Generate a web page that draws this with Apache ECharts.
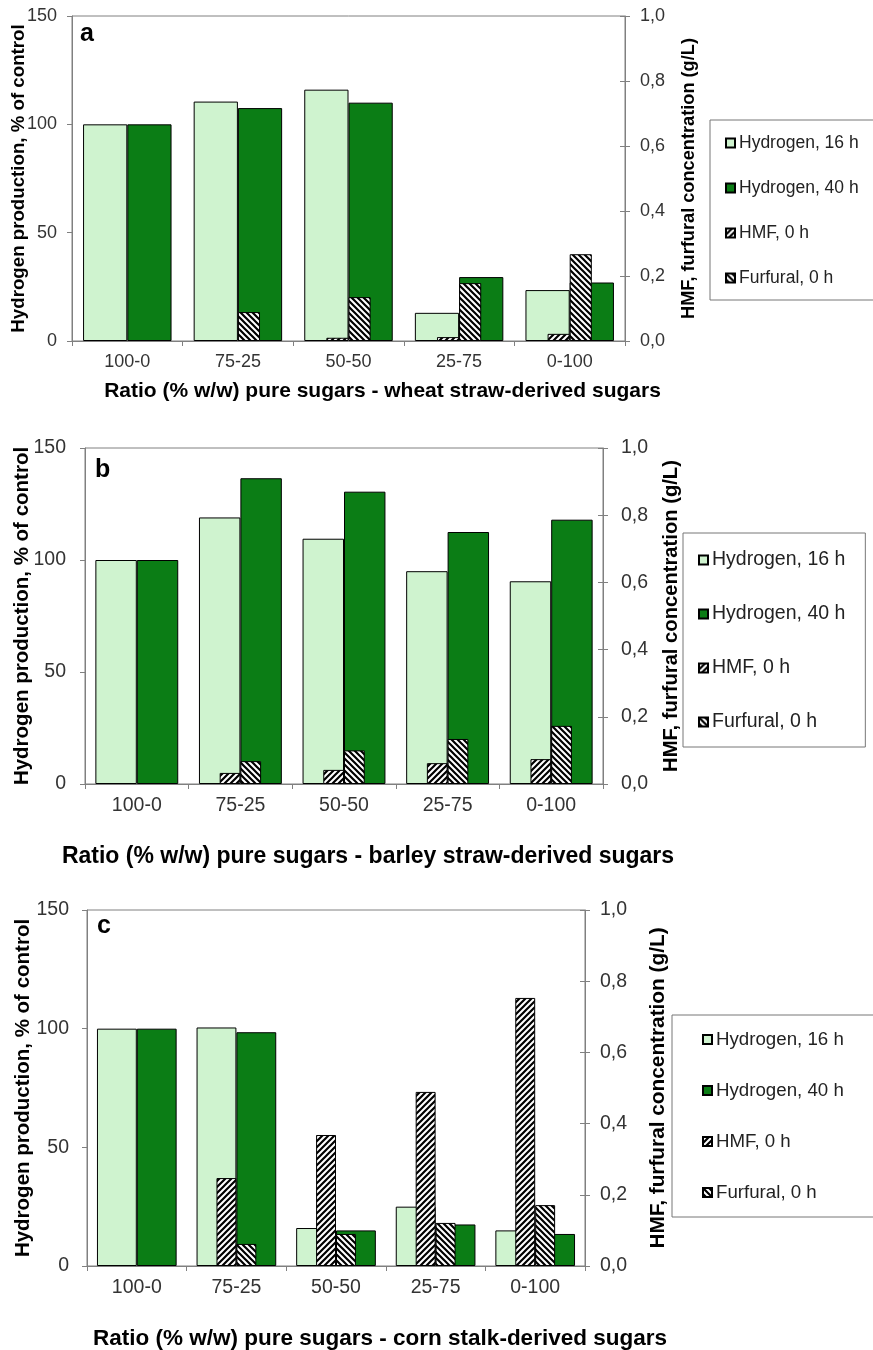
<!DOCTYPE html>
<html>
<head>
<meta charset="utf-8">
<script src="https://cdn.jsdelivr.net/npm/echarts@6/dist/echarts.min.js"></script>
<style>
html,body{margin:0;padding:0;background:#fff;}
#chart{width:873px;height:1350px;}
</style>
</head>
<body>
<div id="chart"></div>
<script>
// ---- data ----
const categories = ['100-0', '75-25', '50-50', '25-75', '0-100'];
const seriesNames = ['Hydrogen, 16 h', 'Hydrogen, 40 h', 'HMF, 0 h', 'Furfural, 0 h'];
const leftTicks = [0, 50, 100, 150];
const rightTicks = [0, 0.2, 0.4, 0.6, 0.8, 1.0];

const a_h16 = [100, 110.5, 116, 13, 23.5];
const a_h40 = [100, 107.5, 110, 29.5, 27];
const a_hmf = [null, null, 0.01, 0.012, 0.022];
const a_fur = [null, 0.089, 0.135, 0.178, 0.267];

const b_h16 = [100, 119, 109.5, 95, 90.5];
const b_h40 = [100, 136.5, 130.5, 112.5, 118];
const b_hmf = [null, 0.033, 0.042, 0.062, 0.074];
const b_fur = [null, 0.068, 0.10, 0.134, 0.173];

const c_h16 = [100, 100.5, 16, 25, 15];
const c_h40 = [100, 98.5, 15, 17.5, 13.5];
const c_hmf = [null, 0.247, 0.368, 0.489, 0.753];
const c_fur = [null, 0.062, 0.09, 0.121, 0.171];

const panelLetters = ['a', 'b', 'c'];
const xTitles = [
  'Ratio (% w/w) pure sugars - wheat straw-derived sugars',
  'Ratio (% w/w) pure sugars - barley straw-derived sugars',
  'Ratio (% w/w) pure sugars - corn stalk-derived sugars'
];
const leftTitle = 'Hydrogen production, % of control';
const rightTitle = 'HMF, furfural concentration (g/L)';

// ---- styles ----
const FONT = '"Liberation Sans", Arial, sans-serif';
const LIGHT = '#CFF3CF';
const DARK = '#0B7D15';
const AXIS = '#808080';

function hatch(dir) {
  const s = 6;
  const c = document.createElement('canvas');
  c.width = s; c.height = s;
  const g = c.getContext('2d');
  g.fillStyle = '#fff'; g.fillRect(0, 0, s, s);
  g.strokeStyle = '#000'; g.lineWidth = 2.2;
  g.beginPath();
  if (dir > 0) {
    g.moveTo(0, s); g.lineTo(s, 0);
    g.moveTo(-s, s); g.lineTo(s, -s);
    g.moveTo(0, 2 * s); g.lineTo(2 * s, 0);
  } else {
    g.moveTo(0, 0); g.lineTo(s, s);
    g.moveTo(-s, 0); g.lineTo(s, 2 * s);
    g.moveTo(0, -s); g.lineTo(2 * s, s);
  }
  g.stroke();
  return c;
}
const hmfPattern = { image: hatch(1), repeat: 'repeat' };
const furPattern = { image: hatch(-1), repeat: 'repeat' };

const panels = [
  { data: [a_h16, a_h40, a_hmf, a_fur], grid: { left: 72, top: 16, width: 553, height: 325 },
    tick: 18, lmargin: 15, rmargin: 15, lname: 18.7, lgap: 44, rname: 18.2, rgap: 55,
    xname: 21, xgap: 40, xshift: 34,
    legend: { left: 710, top: 120, fs: 17.5, lh: 20, gap: 25, pad: [13, 25, 12, 15] },
    letter: { left: 80, top: 22 } },
  { data: [b_h16, b_h40, b_hmf, b_fur], grid: { left: 85, top: 448, width: 518, height: 336 },
    tick: 19.5, lmargin: 19, rmargin: 18, lname: 20.5, lgap: 52, rname: 20.2, rgap: 58,
    xname: 23, xgap: 61, xshift: 24,
    legend: { left: 683, top: 533, fs: 19.5, lh: 22, gap: 32, pad: [16, 20, 14, 15] },
    letter: { left: 95, top: 458 } },
  { data: [c_h16, c_h40, c_hmf, c_fur], grid: { left: 87, top: 910, width: 498, height: 356 },
    tick: 19.5, lmargin: 18, rmargin: 15, lname: 20.5, lgap: 53, rname: 20.8, rgap: 63,
    xname: 22.5, xgap: 61, xshift: 44,
    legend: { left: 672, top: 1015, fs: 18.7, lh: 21, gap: 30, pad: [14, 30, 14, 30] },
    letter: { left: 97, top: 914 } }
];

const option = {
  animation: false,
  backgroundColor: '#fff',
  textStyle: { fontFamily: FONT },
  grid: [], xAxis: [], yAxis: [], series: [], legend: [], title: []
};

panels.forEach((p, i) => {
  option.grid.push(Object.assign({
    show: true, borderColor: AXIS, borderWidth: 1, backgroundColor: 'transparent',
    containLabel: false, outerBoundsMode: 'none'
  }, p.grid));
  // primary x axis
  option.xAxis.push({
    type: 'category', gridIndex: i, data: categories,
    axisLine: { show: true, lineStyle: { color: AXIS, width: 1 } },
    axisTick: { show: true, alignWithLabel: false, length: 5, lineStyle: { color: AXIS } },
    axisLabel: { color: '#333', fontSize: p.tick, fontFamily: FONT, margin: 12 },
    name: xTitles[i], nameLocation: 'middle', nameGap: p.xgap,
    nameTextStyle: { color: '#000', fontSize: p.xname, fontWeight: 'bold', fontFamily: FONT,
      padding: [0, 0, 0, 2 * p.xshift] }
  });
  // secondary x axis (hidden) for the HMF/furfural bar group
  option.xAxis.push({
    type: 'category', gridIndex: i, data: categories, show: false
  });
  const yBase = 3 * i;
  option.yAxis.push({
    type: 'value', gridIndex: i, min: leftTicks[0], max: leftTicks[leftTicks.length - 1], interval: 50,
    position: 'left',
    axisLine: { show: true, lineStyle: { color: AXIS } },
    axisTick: { show: true, length: 5, lineStyle: { color: AXIS } },
    splitLine: { show: false },
    axisLabel: { color: '#333', fontSize: p.tick, fontFamily: FONT, margin: p.lmargin },
    name: leftTitle, nameLocation: 'middle', nameRotate: 90, nameGap: p.lgap, nameMoveOverlap: false,
    nameTextStyle: { color: '#000', fontSize: p.lname, fontWeight: 'bold', fontFamily: FONT }
  });
  option.yAxis.push({
    type: 'value', gridIndex: i, min: rightTicks[0], max: rightTicks[rightTicks.length - 1], interval: 0.2,
    position: 'right',
    axisLine: { show: true, lineStyle: { color: AXIS } },
    axisTick: { show: true, length: 5, lineStyle: { color: AXIS } },
    splitLine: { show: false },
    axisLabel: { color: '#333', fontSize: p.tick, fontFamily: FONT, margin: p.rmargin,
      formatter: v => v.toFixed(1).replace('.', ',') },
    name: rightTitle, nameLocation: 'middle', nameRotate: 90, nameGap: p.rgap,
    nameTextStyle: { color: '#000', fontSize: p.rname, fontWeight: 'bold', fontFamily: FONT }
  });
  // inner ticks for right axis (ticks cross the axis)
  option.yAxis.push({
    type: 'value', gridIndex: i, min: rightTicks[0], max: rightTicks[rightTicks.length - 1], interval: 0.2,
    position: 'right',
    axisLine: { show: false },
    axisTick: { show: true, inside: true, length: 5, lineStyle: { color: AXIS } },
    splitLine: { show: false }, axisLabel: { show: false }
  });

  const border = { borderColor: '#000', borderWidth: 1 };
  option.series.push({
    type: 'bar', name: seriesNames[0], xAxisIndex: 2 * i, yAxisIndex: yBase, data: p.data[0],
    barGap: '0%', barCategoryGap: '20%', itemStyle: Object.assign({ color: LIGHT }, border)
  });
  option.series.push({
    type: 'bar', name: seriesNames[1], xAxisIndex: 2 * i, yAxisIndex: yBase, data: p.data[1],
    barGap: '0%', barCategoryGap: '20%', itemStyle: Object.assign({ color: DARK }, border)
  });
  option.series.push({
    type: 'bar', name: seriesNames[2], xAxisIndex: 2 * i + 1, yAxisIndex: yBase + 1, data: p.data[2],
    barGap: '0%', barCategoryGap: '60%', z: 3, itemStyle: Object.assign({ color: hmfPattern }, border)
  });
  option.series.push({
    type: 'bar', name: seriesNames[3], xAxisIndex: 2 * i + 1, yAxisIndex: yBase + 1, data: p.data[3],
    barGap: '0%', barCategoryGap: '60%', z: 3, itemStyle: Object.assign({ color: furPattern }, border)
  });

  option.legend.push({
    orient: 'vertical', left: p.legend.left, top: p.legend.top,
    padding: p.legend.pad, itemGap: p.legend.gap, itemWidth: 9, itemHeight: 9,
    borderColor: '#777', borderWidth: 1, backgroundColor: '#fff',
    selectedMode: false, icon: 'rect',
    data: seriesNames,
    textStyle: { color: '#222', fontSize: p.legend.fs, lineHeight: p.legend.lh, fontFamily: FONT, padding: [0, 0, 0, -1] }
  });

  option.title.push({
    text: panelLetters[i], left: p.letter.left, top: p.letter.top, padding: 0,
    textStyle: { color: '#000', fontSize: 25, fontWeight: 'bold', fontFamily: FONT }
  });
});

const chart = echarts.init(document.getElementById('chart'), null, { renderer: 'canvas', width: 873, height: 1350 });
chart.setOption(option);
</script>
</body>
</html>
